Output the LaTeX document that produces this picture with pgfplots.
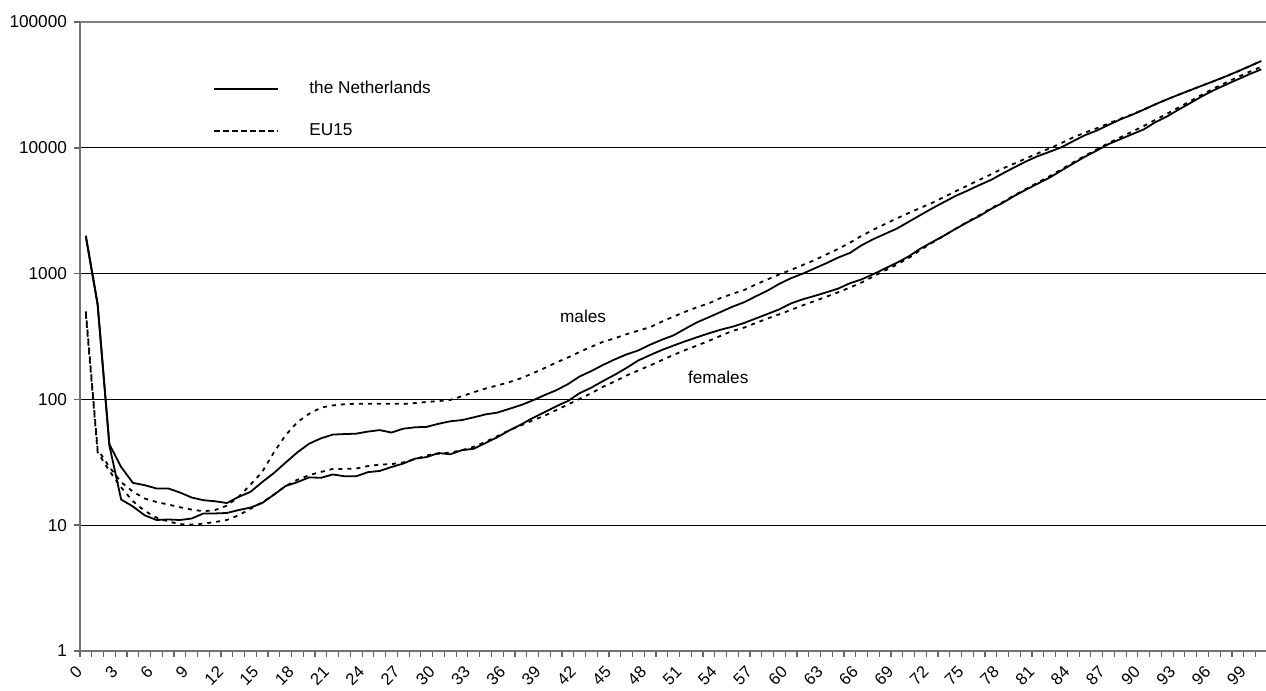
\documentclass[border=0pt]{standalone}
\usepackage{pgfplots}
\pgfplotsset{compat=1.18}
\usepackage{pgfplotstable}
\usepackage{fontspec}
\setmainfont{Liberation Sans}

% age, NL males, EU males, NL females, EU females
\pgfplotstableread{
age nlm eum nlf euf
0 2000 500 1950 470
1 580 40 560 38
2 44 29 43 27
3 29 22 16 20
4 21.7 18.5 14.1 15.5
5 20.8 16.3 12 13
6 19.6 15.3 11 11.5
7 19.6 14.6 11.1 10.7
8 18.2 13.9 11 10.2
9 16.6 13.3 11.3 10.1
10 15.8 12.9 12.4 10.3
11 15.5 13.2 12.4 10.6
12 15.0 14.3 12.5 11
13 16.8 16.8 13.2 12
14 18.4 21 13.8 13.5
15 22 26.5 15 15.2
16 26 38 17.5 17.5
17 31.5 52 20.5 20.5
18 38 66 22 23
19 44.5 77 24 25
20 49 86 23.8 26.5
21 52.5 89.6 25.3 28
22 53 91.5 24.5 28
23 53.4 92.4 24.5 28.2
24 55.5 92.4 26.4 29.5
25 57 92.4 27 30.3
26 54.5 92.4 29 30.6
27 58.5 92 30.9 31.5
28 60 93.5 33.8 33.5
29 60.5 95.4 34.8 35.9
30 64 97 37.5 37
31 67 99 36.6 37.8
32 68.5 106 39.5 39.5
33 72 114 40.5 42
34 76 122 45 46
35 78.5 129 50 51
36 84 137 56.5 56.7
37 90 147 63 62
38 98 161 71 68
39 108 177 79 74
40 118 196 88 82
41 132 215 97 91
42 152 238 112 101
43 168 262 124 112
44 188 287 140 126
45 208 306 157 139
46 228 330 178 155
47 245 352 204 170
48 272 375 225 186
49 298 415 247 205
50 323 455 268 226
51 365 498 290 247
52 410 540 312 268
53 450 580 335 292
54 495 640 358 320
55 545 690 378 350
56 592 740 405 372
57 660 820 440 405
58 733 900 478 440
59 830 985 520 475
60 920 1070 580 515
61 1000 1170 625 560
62 1100 1280 665 605
63 1210 1420 710 655
64 1340 1570 760 710
65 1460 1760 838 775
66 1680 2000 900 850
67 1880 2230 990 950
68 2070 2480 1100 1060
69 2280 2750 1220 1180
70 2580 3030 1370 1330
71 2920 3330 1580 1540
72 3300 3650 1780 1760
73 3700 4060 2000 2000
74 4150 4520 2270 2270
75 4560 5000 2560 2580
76 5050 5550 2860 2900
77 5550 6150 3260 3300
78 6250 6850 3650 3700
79 7000 7500 4150 4200
80 7800 8250 4650 4720
81 8600 9050 5200 5300
82 9300 9900 5800 5950
83 10100 10900 6600 6750
84 11300 12100 7500 7650
85 12600 13200 8500 8650
86 13700 14300 9500 9700
87 15200 15600 10700 10900
88 16800 17000 11700 12100
89 18300 18400 12800 13400
90 20100 20100 14000 14900
91 22200 22200 16000 16700
92 24300 24300 17800 18700
93 26500 26500 20200 21000
94 28800 28800 22800 23600
95 31300 31300 25800 26600
96 34000 34000 28800 29800
97 37000 37000 31800 33000
98 40500 40500 35000 36500
99 44500 44500 38500 40200
100 49000 49000 42000 44000
}\datatable

\begin{document}
\begin{tikzpicture}
\begin{axis}[
  name=ax,
  scale only axis,
  width=593pt, height=314.5pt,
  ymode=log,
  xmin=-0.5, xmax=100.4,
  ymin=1, ymax=100000,
  axis lines*=left,
  axis line style={draw=black!55, line width=1pt},
  ytick={1,10,100,1000,10000,100000},
  yticklabels={1,10,100,1000,10000,100000},
  yminorticks=false,
  xtick={0,3,...,99},
  xticklabels={0,3,6,9,12,15,18,21,24,27,30,33,36,39,42,45,48,51,54,57,60,63,66,69,72,75,78,81,84,87,90,93,96,99},
  minor xtick={-0.5,0.5,...,100.5},
  every major x tick/.style={draw=none},
  every minor x tick/.style={draw=black!60, line width=0.6pt},
  every major y tick/.style={draw=black!60, line width=0.8pt},
  tick align=outside,
  major tick length=3pt,
  minor tick length=3pt,
  ymajorgrids,
  grid style={black, line width=0.5pt},
  tick label style={font=\fontsize{8.6}{10}\selectfont},
  xticklabel style={rotate=45, anchor=east, inner sep=0.3pt, font=\fontsize{8.3}{10}\selectfont, xshift=-6.1pt, yshift=-1.9pt},
  /pgf/number format/assume math mode=true,
  clip=false,
  legend style={at={(rel axis cs:0.112,0.913)}, anchor=north west, draw=none, fill=none,
    font=\fontsize{8.6}{10}\selectfont, row sep=9.5pt, inner sep=0pt},
  legend cell align=left,
  /tikz/every odd column/.append style={column sep=13pt},
  legend image code/.code={\draw[#1] (0pt,0pt) -- (32pt,0pt);},
]
\addlegendimage{black, line width=0.9pt}
\addlegendentry{the Netherlands}
\addlegendimage{black, line width=1.1pt, dash pattern=on 2.8pt off 1.7pt}
\addlegendentry{EU15}
\addplot[forget plot, black, line width=0.9pt] table[x=age, y=nlm] {\datatable};
\addplot[forget plot, black, line width=0.9pt] table[x=age, y=nlf] {\datatable};
\addplot[forget plot, black, line width=0.9pt, dash pattern=on 2pt off 2.5pt] table[x=age, y=eum] {\datatable};
\addplot[forget plot, black, line width=0.9pt, dash pattern=on 2pt off 2.5pt] table[x=age, y=euf] {\datatable};
\node[font=\fontsize{8.6}{10}\selectfont] at (axis cs:42.3,456) {males};
\node[font=\fontsize{8.6}{10}\selectfont] at (axis cs:53.8,150) {females};
\draw[black!50, line width=1pt] (rel axis cs:0,1) -- (rel axis cs:1,1);
\end{axis}
\pgfresetboundingbox
\path[use as bounding box] ([xshift=-40pt,yshift=-20pt]ax.south west) rectangle ([yshift=11pt]ax.north east);
\end{tikzpicture}
\end{document}
